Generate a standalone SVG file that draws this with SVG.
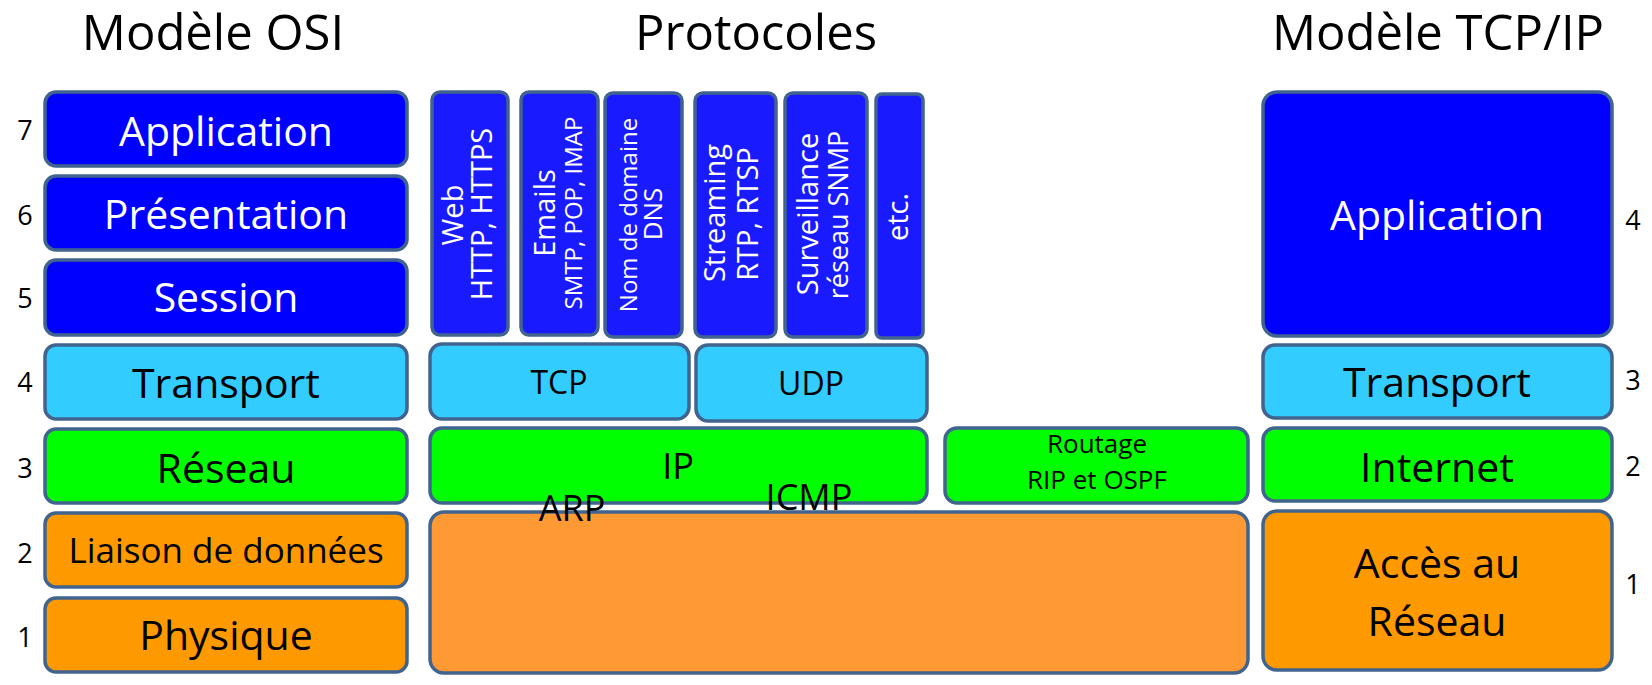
<svg xmlns="http://www.w3.org/2000/svg" width="1652" height="685" viewBox="0 0 1652 685">
<style>
  text { font-family: "Open Sans", "Liberation Sans", sans-serif; text-anchor: middle; }
  .box { stroke: #41648f; stroke-width: 3.5; }
  .app { fill: #0000ff; }
  .proto { fill: #1a1aff; }
  .trans { fill: #33ccff; }
  .net { fill: #00ff00; }
  .link { fill: #ff9900; }
  .link2 { fill: #ff9933; }
  .title { font-size: 49px; fill: #000; }
  .big { font-size: 41px; }
  .w { fill: #ffffff; }
  .k { fill: #000000; }
  .num { font-size: 27px; fill: #000; }
</style>
<rect width="1652" height="685" fill="#ffffff"/>

<g id="titles">
  <text class="title" x="213" y="50">Modèle OSI</text>
  <text class="title" x="756" y="50">Protocoles</text>
  <text class="title" x="1438" y="50">Modèle TCP/IP</text>
</g>

<g id="osi-numbers">
  <text class="num" x="25" y="140">7</text>
  <text class="num" x="25" y="225">6</text>
  <text class="num" x="25" y="308">5</text>
  <text class="num" x="25" y="392">4</text>
  <text class="num" x="25" y="478">3</text>
  <text class="num" x="25" y="563">2</text>
  <text class="num" x="25" y="647">1</text>
</g>

<g id="osi-application"><rect class="box app" x="45" y="92" width="362" height="74" rx="11"/><text class="big w" x="226" y="146">Application</text></g>
<g id="osi-presentation"><rect class="box app" x="45" y="176" width="362" height="74" rx="11"/><text class="big w" x="226" y="229">Présentation</text></g>
<g id="osi-session"><rect class="box app" x="45" y="260" width="362" height="75" rx="11"/><text class="big w" x="226" y="312">Session</text></g>
<g id="osi-transport"><rect class="box trans" x="45" y="345" width="362" height="74" rx="11"/><text class="big k" x="226" y="398">Transport</text></g>
<g id="osi-reseau"><rect class="box net" x="45" y="429" width="362" height="74" rx="11"/><text class="big k" x="226" y="483">Réseau</text></g>
<g id="osi-liaison"><rect class="box link" x="45" y="513" width="362" height="74" rx="11"/><text class="k" style="font-size:35px" x="226" y="563">Liaison de données</text></g>
<g id="osi-physique"><rect class="box link" x="45" y="598" width="362" height="74" rx="11"/><text class="big k" x="226" y="650">Physique</text></g>

<g id="proto-web"><rect class="box proto" x="432" y="92" width="76" height="243" rx="8"/>
  <g transform="rotate(-90)"><text class="w" style="font-size:29px" x="-215" y="463">Web</text><text class="w" style="font-size:29px" x="-214" y="492">HTTP, HTTPS</text></g></g>
<g id="proto-emails"><rect class="box proto" x="521" y="92" width="77" height="243" rx="8"/>
  <g transform="rotate(-90)"><text class="w" style="font-size:29px" x="-213" y="555">Emails</text><text class="w" style="font-size:24px" x="-213" y="582">SMTP, POP, IMAP</text></g></g>
<g id="proto-dns"><rect class="box proto" x="605" y="93" width="77" height="244" rx="8"/>
  <g transform="rotate(-90)"><text class="w" style="font-size:24px" x="-215" y="637">Nom de domaine</text><text class="w" style="font-size:26px" x="-214" y="662">DNS</text></g></g>
<g id="proto-streaming"><rect class="box proto" x="695" y="93" width="81" height="244" rx="8"/>
  <g transform="rotate(-90)"><text class="w" style="font-size:29px" x="-213" y="725">Streaming</text><text class="w" style="font-size:29px" x="-214" y="758">RTP, RTSP</text></g></g>
<g id="proto-snmp"><rect class="box proto" x="785" y="93" width="82" height="244" rx="8"/>
  <g transform="rotate(-90)"><text class="w" style="font-size:29px" x="-214" y="818">Surveillance</text><text class="w" style="font-size:27px" x="-215" y="848">réseau SNMP</text></g></g>
<g id="proto-etc"><rect class="box proto" x="876" y="94" width="47" height="244" rx="6"/>
  <g transform="rotate(-90)"><text class="w" style="font-size:29px" x="-217" y="908">etc.</text></g></g>

<g id="proto-tcp"><rect class="box trans" x="430" y="344" width="259" height="75" rx="12"/><text class="k" style="font-size:32px" x="559" y="394">TCP</text></g>
<g id="proto-udp"><rect class="box trans" x="696" y="345" width="231" height="76" rx="12"/><text class="k" style="font-size:32px" x="811" y="395">UDP</text></g>
<g id="proto-ip"><rect class="box net" x="430" y="428" width="497" height="75" rx="12"/><text class="k" style="font-size:36px" x="678" y="479">IP</text></g>
<g id="proto-routage"><rect class="box net" x="945" y="428" width="303" height="75" rx="12"/>
  <text class="k" style="font-size:26px" x="1097" y="453">Routage</text><text class="k" style="font-size:26px" x="1097" y="489">RIP et OSPF</text></g>
<g id="proto-link"><rect class="box link2" x="430" y="512" width="818" height="161" rx="14"/></g>
<g id="proto-arp"><text class="k" style="font-size:36px" x="572" y="521">ARP</text></g>
<g id="proto-icmp"><text class="k" style="font-size:36px" x="809" y="510">ICMP</text></g>

<g id="tcpip-application"><rect class="box app" x="1263" y="92" width="349" height="244" rx="14"/><text class="big w" x="1437" y="230">Application</text></g>
<g id="tcpip-transport"><rect class="box trans" x="1263" y="345" width="349" height="73" rx="12"/><text class="big k" x="1437" y="397">Transport</text></g>
<g id="tcpip-internet"><rect class="box net" x="1263" y="428" width="349" height="73" rx="12"/><text class="big k" x="1437" y="482">Internet</text></g>
<g id="tcpip-acces"><rect class="box link" x="1263" y="511" width="349" height="159" rx="14"/>
  <text class="big k" x="1437" y="578">Accès au</text><text class="big k" x="1437" y="636">Réseau</text></g>

<g id="tcpip-numbers">
  <text class="num" x="1633" y="230">4</text>
  <text class="num" x="1633" y="390">3</text>
  <text class="num" x="1633" y="476">2</text>
  <text class="num" x="1633" y="594">1</text>
</g>
<g id="connectors"/>
</svg>
